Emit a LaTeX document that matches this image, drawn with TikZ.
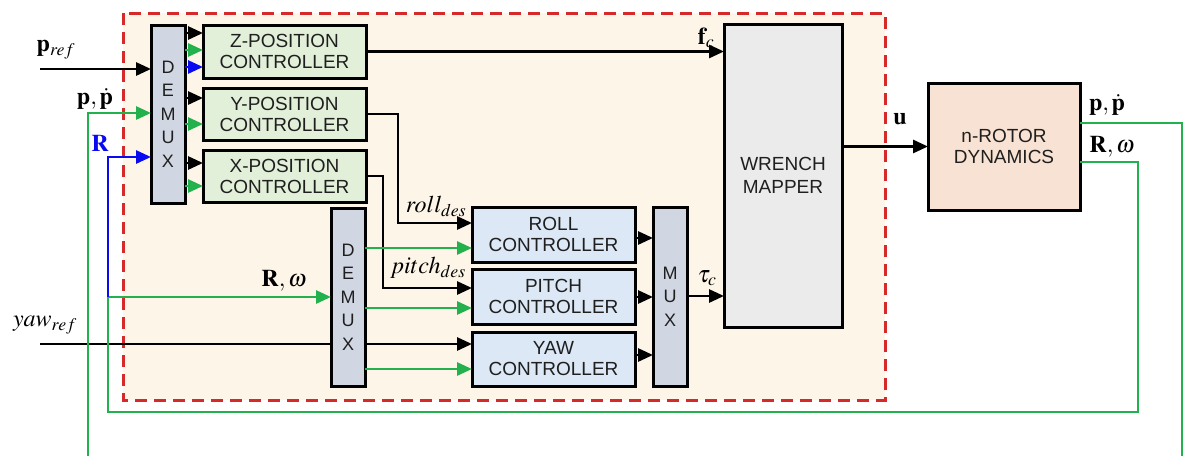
\documentclass[tikz,border=0pt]{standalone}
\usepackage{mathptmx}
\usepackage[no-math]{fontspec}
\setmainfont{Liberation Sans}
\usetikzlibrary{arrows.meta}
\pgfdeclarelayer{bg}
\pgfdeclarelayer{back}
\pgfsetlayers{bg,back,main}
\definecolor{gr}{HTML}{22B14C}
\definecolor{bl}{HTML}{0A0AF0}
\definecolor{rd}{HTML}{D62A2A}
\definecolor{cream}{HTML}{FDF6E8}
\definecolor{gfill}{HTML}{E2EFD9}
\definecolor{bfill}{HTML}{DCE8F6}
\definecolor{dfill}{HTML}{D0D7E3}
\definecolor{wfill}{HTML}{EBEBEB}
\definecolor{rfill}{HTML}{F8E2D3}
\begin{document}
\begin{tikzpicture}[x=1pt,y=-1pt,
  blk/.style={draw=black,line width=3pt,inner sep=0pt,outer sep=0pt,anchor=north west,align=center,
    font=\fontsize{19}{21}\selectfont,text=black!88},
  ctrlG/.style={blk,fill=gfill,minimum width=163pt},
  ctrlB/.style={blk,fill=bfill,minimum width=163pt},
  mx/.style={blk,fill=dfill,minimum width=34pt,font=\fontsize{18}{23.5}\selectfont},
  conn/.style={line width=2.8pt,-{Triangle[length=15pt,width=13pt]}},
  lab/.style={font=\fontsize{24}{26}\selectfont,inner sep=0pt}
]
\useasboundingbox (0,0) rectangle (1190,455);
\clip (0,0) rectangle (1190,455);
% controller container
\begin{pgfonlayer}{bg}
\draw[rd,fill=cream,line width=3pt,dash pattern=on 12pt off 7pt] (123,13) rectangle (885,400);
\end{pgfonlayer}

% blocks
\node[mx,minimum height=178pt] (demuxA) at (151,25) {D\\E\\M\\U\\X};
\node[ctrlG,minimum height=53pt] (zpos) at (203,25) {Z-POSITION\\CONTROLLER};
\node[ctrlG,minimum height=52pt] (ypos) at (203,88) {Y-POSITION\\CONTROLLER};
\node[ctrlG,minimum height=52pt] (xpos) at (203,150) {X-POSITION\\CONTROLLER};
\node[mx,minimum height=178pt] (demuxB) at (331,208) {D\\E\\M\\U\\X};
\node[ctrlB,minimum height=55pt] (roll) at (472,207) {ROLL\\CONTROLLER};
\node[ctrlB,minimum height=55pt] (pitch) at (472,269) {PITCH\\CONTROLLER};
\node[ctrlB,minimum height=54pt] (yaw) at (472,332) {YAW\\CONTROLLER};
\node[mx,minimum height=179pt] (mux) at (653,207) {M\\U\\X};
\node[blk,fill=wfill,minimum width=118pt,minimum height=303pt,font=\fontsize{19}{23}\selectfont] (wrench) at (724,24) {WRENCH\\MAPPER};
\node[blk,fill=rfill,minimum width=152pt,minimum height=127pt] (rotor) at (928,83) {n-ROTOR\\DYNAMICS};

% free ends
\coordinate (prefin) at (40,69);
\coordinate (yawin) at (40,344);
\coordinate (j) at (108,297);

% inputs
\draw[conn] (prefin) -- (demuxA.west |- prefin);
\begin{pgfonlayer}{back}
\draw[conn] (yawin) -- (yaw.west |- yawin);
\end{pgfonlayer}

% demux A to position controllers
\draw[conn] (demuxA.east |- 0,33) -- (zpos.west |- 0,33);
\draw[conn,gr] (demuxA.east |- 0,50) -- (zpos.west |- 0,50);
\draw[conn,bl] (demuxA.east |- 0,67) -- (zpos.west |- 0,67);
\draw[conn] (demuxA.east |- 0,98) -- (ypos.west |- 0,98);
\draw[conn,gr] (demuxA.east |- 0,124) -- (ypos.west |- 0,124);
\draw[conn] (demuxA.east |- 0,163) -- (xpos.west |- 0,163);
\draw[conn,gr] (demuxA.east |- 0,186) -- (xpos.west |- 0,186);

% position controllers outputs
\draw[conn] (zpos.east) -- (wrench.west |- zpos.east);
\draw[conn] (ypos.east) -| (398,223) -- (roll.west |- 0,223);
\draw[conn] (xpos.east) -| (383,288) -- (pitch.west |- 0,288);

% demux B to attitude controllers
\draw[conn,gr] (demuxB.east |- 0,248) -- (roll.west |- 0,248);
\draw[conn,gr] (demuxB.east |- 0,308) -- (pitch.west |- 0,308);
\draw[conn,gr] (demuxB.east |- 0,369) -- (yaw.west |- 0,369);

% attitude controllers to mux
\draw[conn] (roll.east |- 0,238) -- (mux.west |- 0,238);
\draw[conn] (pitch.east |- 0,297) -- (mux.west |- 0,297);
\draw[conn] (yaw.east |- 0,355) -- (mux.west |- 0,355);

% mux and wrench outputs
\draw[conn] (mux.east |- 0,296) -- (wrench.west |- 0,296);
\draw[conn] (wrench.east |- rotor.west) -- (rotor.west);

% feedback
\draw[conn,gr] (rotor.east |- 0,123) -- (1182,123) -- (1182,470) -- (88,470) -- (88,113) -- (demuxA.west |- 0,113);
\draw[conn,gr] (rotor.east |- 0,162) -- (1138,162) -- (1138,412) -- (108,412) -- (j) -- (demuxB.west |- j);
\draw[conn,bl] (j) -- (108,157) -- (demuxA.west |- 0,157);

% labels
\node[lab] (lpref) at (56,50) {$\mathbf{p}_{ref}$};
\node[lab] (lpp) at (95,99) {$\mathbf{p},\dot{\mathbf{p}}$};
\node[lab,text=bl] (lR) at (100,143) {$\mathbf{R}$};
\node[lab] (lRw) at (284,281) {$\mathbf{R},\omega$};
\node[lab] (lyaw) at (45,325) {$yaw_{ref}$};
\node[lab] (lroll) at (436,206) {$roll_{des}$};
\node[lab] (lpitch) at (428,268) {$pitch_{des}$};
\node[lab] (lfc) at (706,38) {$\mathbf{f}_c$};
\node[lab] (ltau) at (707,278) {$\tau_c$};
\node[lab] (lu) at (900,119) {$\mathbf{u}$};
\node[lab] (lpp2) at (1107,105) {$\mathbf{p},\dot{\mathbf{p}}$};
\node[lab] (lRw2) at (1112,147) {$\mathbf{R},\omega$};
\end{tikzpicture}
\end{document}
